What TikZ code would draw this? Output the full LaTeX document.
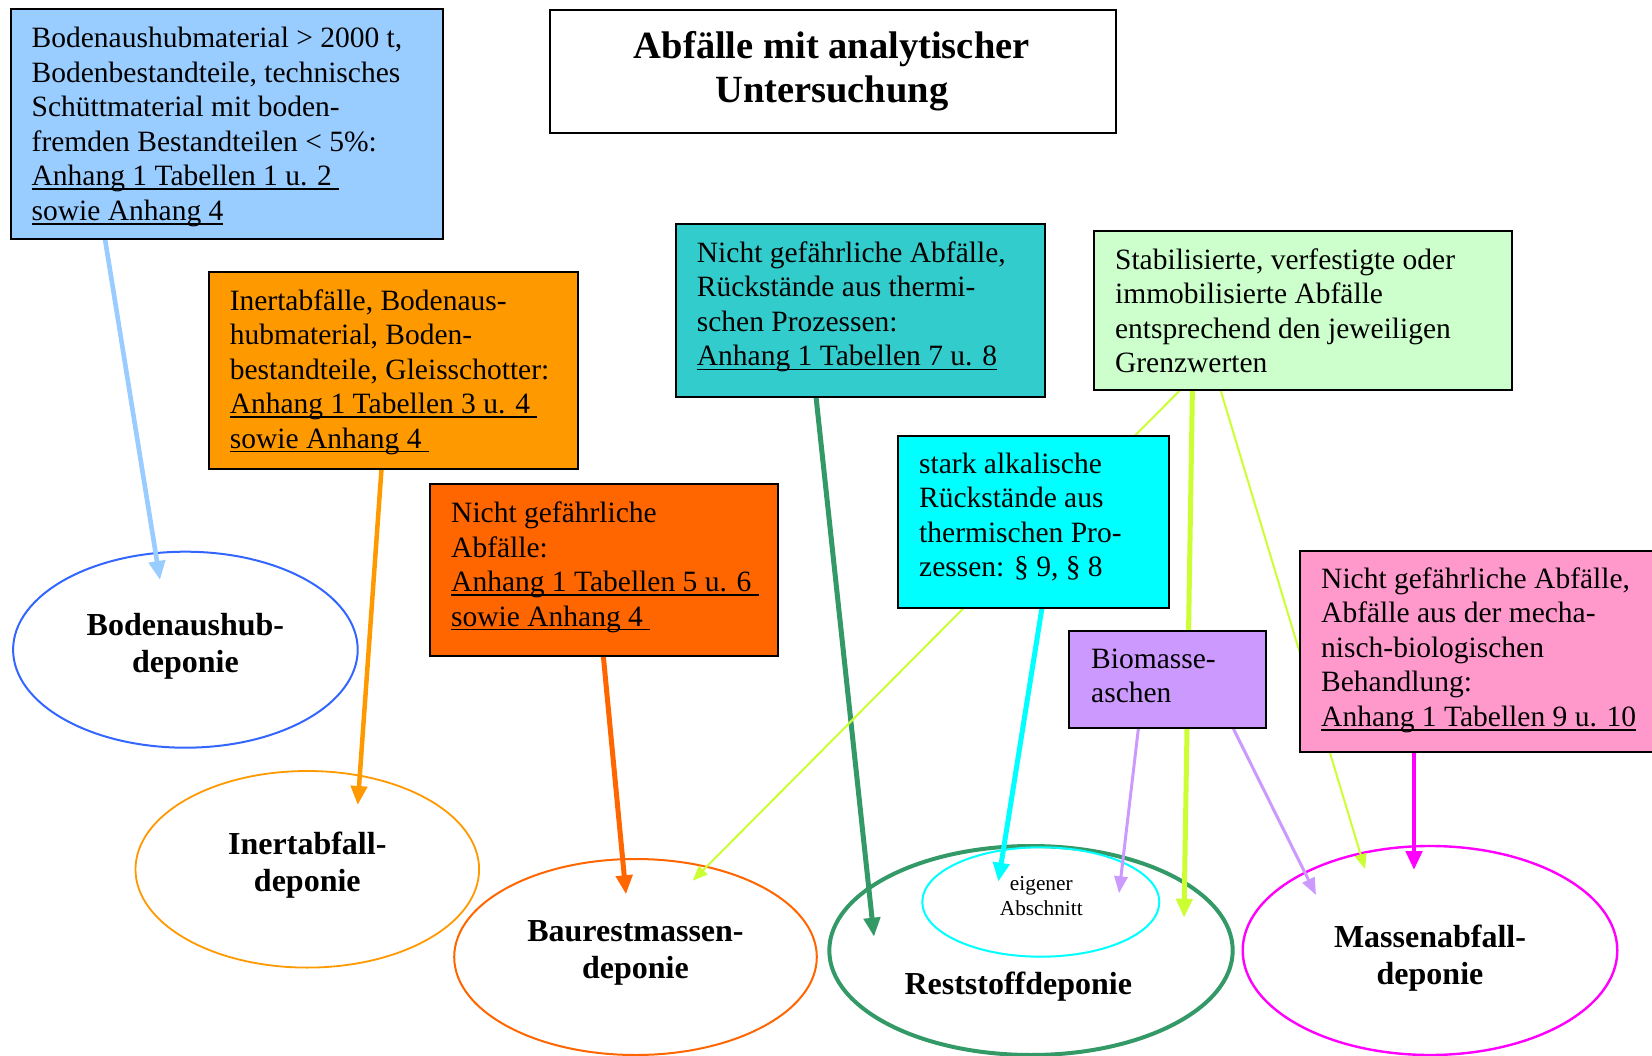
\documentclass[tikz,border=0pt]{standalone}
\usepackage{fontspec}
\setmainfont{Liberation Serif}
\usetikzlibrary{shapes.geometric,arrows.meta,calc}
\definecolor{cBlue}{HTML}{99CCFF}
\definecolor{cBoden}{HTML}{3366FF}
\definecolor{cOrange}{HTML}{FF9900}
\definecolor{cDOrange}{HTML}{FF6600}
\definecolor{cTeal}{HTML}{33CCCC}
\definecolor{cDGreen}{HTML}{339966}
\definecolor{cLGreen}{HTML}{CCFFCC}
\definecolor{cYellow}{HTML}{CCFF33}
\definecolor{cCyan}{HTML}{00FFFF}
\definecolor{cPurple}{HTML}{CC99FF}
\definecolor{cPink}{HTML}{FF99CC}
\definecolor{cMagenta}{HTML}{FF00FF}
\pgfdeclarelayer{bg}\pgfdeclarelayer{mid}\pgfsetlayers{bg,mid,main}
\newsavebox\ulbox
\newcommand\uln[1]{\sbox\ulbox{#1}\rlap{\rule[-4.3pt]{\wd\ulbox}{1.7pt}}\usebox\ulbox}
\begin{document}
\begin{tikzpicture}[x=1pt,y=-1pt,
  boxst/.style={draw=black,line width=2pt,rectangle,anchor=north west,inner sep=0pt,outer sep=0pt},
  txt/.style={anchor=north west,inner sep=0pt,align=left,font=\fontsize{29.5}{34.5}\selectfont},
  elab/.style={anchor=north,inner sep=0pt,align=center,font=\bfseries\fontsize{32}{37}\selectfont},
  dep/.style={ellipse,inner sep=0pt,outer sep=0pt},
  arrthick/.style={line width=5pt,-{Triangle[length=19pt,width=16pt]}},
  arrmid/.style={line width=3pt,-{Triangle[length=17pt,width=13pt]}},
  arrthin/.style={line width=2pt,-{Triangle[length=15pt,width=12pt]}}]
\useasboundingbox (0,0) rectangle (1652,1056);

% ---------- ellipses ----------
\begin{pgfonlayer}{bg}
\fill[white] (0,0) rectangle (1652,1056);
\node[dep,draw=cBoden,line width=2pt,minimum width=344.6pt,minimum height=196pt] (boden) at (185.4,649.7) {};
\node[dep,draw=cOrange,line width=1.8pt,minimum width=343.6pt,minimum height=196.6pt] (inertE) at (307.3,869.3) {};
\node[dep,draw=cDOrange,line width=2pt,minimum width=362.6pt,minimum height=196pt] (baurest) at (635.5,957) {};
\node[dep,draw=cDGreen,line width=4pt,minimum width=403.4pt,minimum height=209pt] (rest) at (1031,950.5) {};
\node[dep,draw=cCyan,line width=2pt,minimum width=237pt,minimum height=109.4pt] (inner) at (1040.8,902) {};
\node[dep,draw=cMagenta,line width=2.4pt,minimum width=374.6pt,minimum height=209pt] (massen) at (1430,950.5) {};
\end{pgfonlayer}

\node[elab] at ($(boden.center)+(0,-40.6)$) {\strut Bodenaushub-\\deponie};
\node[elab] at ($(inertE.center)+(0,-40.9)$) {\strut Inertabfall-\\deponie};
\node[elab] at ($(baurest.center)+(0,-41.9)$) {\strut Baurestmassen-\\deponie};
\node[elab] at ($(rest.center)+(-12.7,17.6)$) {\strut Reststoffdeponie};
\node[elab] at ($(massen.center)+(0,-29.4)$) {\strut Massenabfall-\\deponie};
\node[anchor=north,inner sep=0pt,align=center,font=\fontsize{21.3}{25}\selectfont] at ($(inner.center)+(0.5,-28.8)$) {\strut eigener\\Abschnitt};

% ---------- boxes ----------
\node[boxst,draw=black,minimum width=565.6pt,minimum height=122.7pt] (title) at (550,10) {};
\node[anchor=north,inner sep=0pt,align=center,font=\bfseries\fontsize{38.5}{44.5}\selectfont] at ($(title.north)+(-1,17)$) {\strut Abfälle mit analytischer\\Untersuchung};

\node[boxst,fill=cBlue,minimum width=432.3pt,minimum height=229.7pt] (blue) at (10.5,9.3) {};
\node[txt] at ($(blue.north west)+(21,14.15)$) {\strut Bodenaushubmaterial > 2000 t,\\Bodenbestandteile, technisches\\Schüttmaterial mit boden-\\fremden Bestandteilen < 5\%:\\\uln{Anhang 1 Tabellen 1 u. 2\ }\\\uln{sowie Anhang 4}};

\node[boxst,fill=cOrange,minimum width=369.3pt,minimum height=197.3pt] (inert) at (208.6,271.7) {};
\node[txt] at ($(inert.north west)+(21,14.15)$) {\strut Inertabfälle, Bodenaus-\\hubmaterial, Boden-\\bestandteile, Gleisschotter:\\\uln{Anhang 1 Tabellen 3 u. 4\ }\\\uln{sowie Anhang 4\ }};

\node[boxst,fill=cTeal,minimum width=369.7pt,minimum height=172.7pt] (teal) at (675.7,224) {};
\node[txt] at ($(teal.north west)+(21,14.15)$) {\strut Nicht gefährliche Abfälle,\\Rückstände aus thermi-\\schen Prozessen:\\\uln{Anhang 1 Tabellen 7 u. 8}};

\node[boxst,fill=cLGreen,minimum width=418.4pt,minimum height=159.3pt] (green) at (1093.9,230.7) {};
\node[txt] at ($(green.north west)+(21,14.15)$) {\strut Stabilisierte, verfestigte oder\\immobilisierte Abfälle\\entsprechend den jeweiligen\\Grenzwerten};

\node[boxst,fill=cDOrange,minimum width=348pt,minimum height=171.7pt] (dor) at (430,484) {};
\node[txt] at ($(dor.north west)+(21,14.15)$) {\strut Nicht gefährliche\\Abfälle:\\\uln{Anhang 1 Tabellen 5 u. 6\ }\\\uln{sowie Anhang 4\ }};

\node[boxst,fill=cCyan,minimum width=270.7pt,minimum height=171.7pt] (cyan) at (898,436) {};
\node[txt] at ($(cyan.north west)+(21,13)$) {\strut stark alkalische\\Rückstände aus\\thermischen Pro-\\zessen: §~9, §~8};

\node[boxst,fill=cPurple,minimum width=197.4pt,minimum height=97.6pt] (purple) at (1069,630.7) {};
\node[txt] at ($(purple.north west)+(22,13.4)$) {\strut Biomasse-\\aschen};

\node[boxst,fill=cPink,minimum width=370pt,minimum height=201.5pt] (pink) at (1300,550.5) {};
\node[txt] at ($(pink.north west)+(21,13.5)$) {\strut Nicht gefährliche Abfälle,\\Abfälle aus der mecha-\\nisch-biologischen\\Behandlung:\\\uln{Anhang 1 Tabellen 9 u. 10}};

% ---------- connectors ----------
\begin{pgfonlayer}{mid}
\draw[arrthick,line width=4.6pt,cBlue] ($(blue.south west)+(94.5,0)$) -- ($(boden.center)+(-25.4,-69.7)$);
\draw[arrthick,line width=4.5pt,cOrange] ($(inert.south west)+(172.9,0)$) -- ($(inertE.center)+(50.4,-64.3)$);
\draw[arrthick,cDOrange] ($(dor.south west)+(173.3,0)$) -- ($(baurest.center)+(-9.5,-62.7)$);
\draw[arrthick,cDGreen] ($(teal.south west)+(140.3,0)$) -- ($(rest.center)+(-157,-13.8)$);
\draw[arrthick,cCyan] ($(cyan.south west)+(144,0)$) -- ($(inner.center)+(-42.5,-20.3)$);
\draw[arrthin,cYellow] ($(green.south west)+(86.4,0)$) -- ($(baurest.center)+(57.2,-76.3)$);
\draw[arrthick,cYellow] ($(green.south west)+(98.5,0)$) -- ($(rest.center)+(153,-32.8)$);
\draw[arrthin,cYellow] ($(green.south west)+(126.6,0)$) -- ($(massen.center)+(-65,-81.5)$);
\draw[arrmid,cPurple] ($(purple.south west)+(69.4,0)$) -- ($(inner.center)+(78.2,-8.7)$);
\draw[arrmid,cPurple] ($(purple.south west)+(164.2,0)$) -- ($(massen.center)+(-114,-55.5)$);
\draw[arrthick,line width=4.6pt,cMagenta] ($(pink.south west)+(114,0)$) -- ($(massen.center)+(-16,-80.5)$);
\end{pgfonlayer}
\end{tikzpicture}
\end{document}
